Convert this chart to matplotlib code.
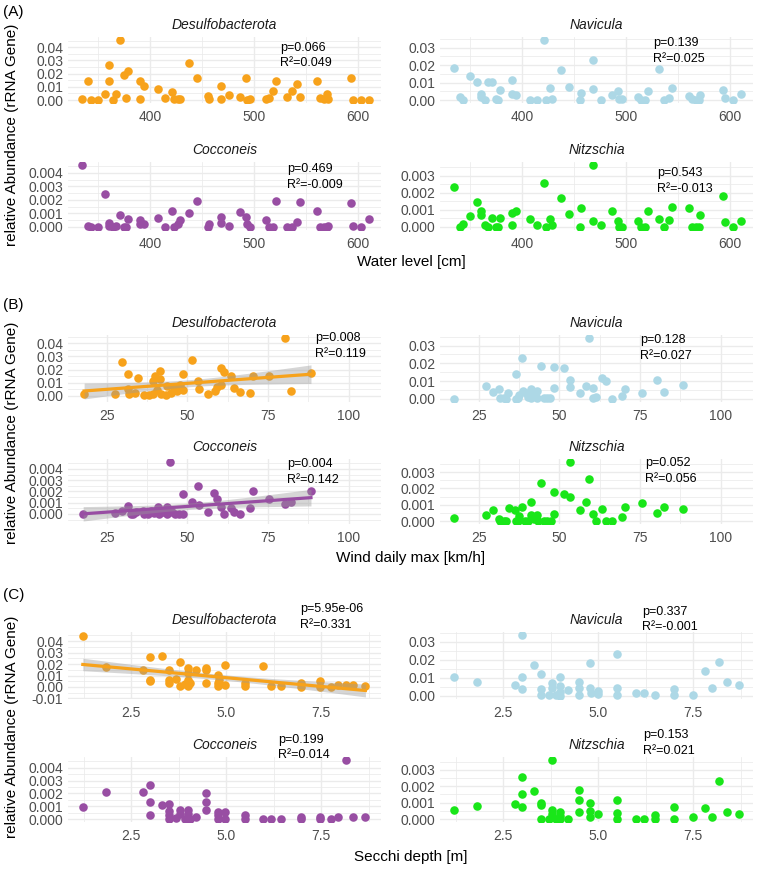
import numpy as np
import matplotlib
matplotlib.use("Agg")
import matplotlib.pyplot as plt
from matplotlib.ticker import MultipleLocator, FormatStrFormatter

plt.rcParams['font.family'] = ['Liberation Sans', 'DejaVu Sans']
plt.rcParams['axes.unicode_minus'] = False

species = ["Desulfobacterota", "Navicula", "Cocconeis", "Nitzschia"]
colors = ["#F7A21B", "#ADD8E6", "#984EA3", "#19E619"]

# (A) water level
water_level = [334, 340, 343, 350, 357, 360, 360, 364, 367, 371, 375, 377, 379, 390, 390, 394, 408, 414,
               421, 423, 427, 429, 437, 445, 456, 457, 468, 468, 476, 486, 492, 493, 496, 511, 514, 518,
               521, 532, 536, 541, 544, 560, 563, 567, 570, 571, 593, 595, 603, 610]
a_desulfo = [0.0008, 0.0147, 0.0, 0.0, 0.0044, 0.0266, 0.0142, 0.0, 0.0044, 0.0455,
             0.0186, 0.0013, 0.0219, 0.0005, 0.0142, 0.0103, 0.0083, 0.0018, 0.0059, 0.0005,
             0.0005, 0.0005, 0.0279, 0.0170, 0.0031, 0.0008, 0.0103, 0.0005, 0.0039, 0.0023,
             0.0165, 0.0, 0.0005, 0.0008, 0.0018, 0.0065, 0.0145, 0.0026, 0.0072, 0.0119,
             0.0023, 0.0147, 0.0018, 0.0008, 0.0044, 0.0005, 0.0170, 0.0, 0.0, 0.0]
a_navicula = [0.0184, 0.0019, 0.0, 0.0135, 0.0106, 0.0033, 0.0019, 0.0, 0.0101, 0.0106,
              0.0006, 0.0, 0.0058, 0.0116, 0.0035, 0.0031, 0.0, 0.0, 0.0344, 0.0,
              0.0070, 0.0006, 0.0170, 0.0073, 0.0, 0.0039, 0.0064, 0.0232, 0.0, 0.0031,
              0.0052, 0.0006, 0.0006, 0.0015, 0.0, 0.0, 0.0054, 0.0180, 0.0, 0.0010,
              0.0070, 0.0025, 0.0006, 0.0, 0.0, 0.0031, 0.0060, 0.0014, 0.0, 0.0037]
a_cocconeis = [0.00458, 0.0001, 0.0, 0.0, 0.00245, 0.0003, 0.0001, 0.0, 0.0001, 0.0009,
               0.0, 0.0, 0.00055, 0.0005, 0.0002, 0.0002, 0.00065, 0.0, 0.0012, 0.0,
               0.0002, 0.0005, 0.00105, 0.00195, 0.0, 0.00025, 0.0007, 0.0003, 0.0001, 0.0011,
               0.0007, 0.0002, 0.0, 0.00048, 0.0, 0.0, 0.00195, 0.0, 0.0, 0.00035,
               0.00185, 0.0012, 0.0, 0.0, 0.0, 0.0001, 0.00175, 0.0001, 0.0, 0.00055]
a_nitzschia = [0.00236, 0.0, 0.0002, 0.00064, 0.00149, 0.00091, 0.00072, 0.0001, 0.0, 0.00054,
               0.0, 0.0, 0.00052, 0.00083, 0.0001, 0.00093, 0.00045, 0.0001, 0.00261, 0.0,
               0.00045, 0.0001, 0.0017, 0.00077, 0.0, 0.00114, 0.00033, 0.00364, 0.0001, 0.00093,
               0.00033, 0.0, 0.0, 0.00033, 0.0, 0.0, 0.00093, 0.00048, 0.0, 0.00043,
               0.0012, 0.00112, 0.0, 0.0, 0.0, 0.00072, 0.0018, 0.00027, 0.0, 0.00037]

# (B) wind daily max
b_desulfo_x = [18.0, 27.7, 29.7, 31.7, 31.7, 32.0, 33.7, 34.7, 36.7, 38.0, 39.3, 40.0, 39.3, 40.7, 41.5,
               41.5, 41.8, 43.3, 43.8, 44.8, 45.8, 46.8, 47.8, 48.5, 48.5, 51.5, 53.3, 53.5, 56.5, 58.5,
               59.3, 60.3, 61.3, 60.3, 63.4, 64.4, 66.4, 69.4, 70.4, 75.4, 80.2, 82.2, 88.3]
b_desulfo_y = [0.0015, 0.0012, 0.0258, 0.0165, 0.005, 0.0015, 0.002, 0.014, 0.0008, 0.0008,
               0.0115, 0.015, 0.0015, 0.0045, 0.019, 0.0125, 0.0015, 0.0008, 0.0075, 0.0025,
               0.0058, 0.004, 0.0083, 0.017, 0.0045, 0.027, 0.0115, 0.0053, 0.0015, 0.004,
               0.0065, 0.0215, 0.0183, 0.0083, 0.015, 0.0058, 0.003, 0.002, 0.015, 0.015,
               0.044, 0.0038, 0.0175]
b_navicula_x = [17.3, 27.2, 29.3, 31.2, 31.5, 32.8, 33.3, 34.2, 36.4, 36.4, 37.1, 37.6, 38.3, 38.6, 39.6,
                40.3, 41.1, 41.3, 42.1, 43.1, 43.1, 44.2, 45.2, 46.2, 47.2, 48.2, 48.2, 51.3, 53.3, 53.3,
                56.4, 58.4, 59.2, 60.4, 60.4, 61.4, 63.3, 64.5, 66.3, 69.4, 70.4, 75.5, 80.3, 82.4, 88.4]
b_navicula_y = [0.0, 0.0075, 0.0038, 0.0055, 0.0004, 0.0008, 0.0, 0.0032, 0.0139, 0.0,
                0.0004, 0.0023, 0.0231, 0.0042, 0.0032, 0.0013, 0.0057, 0.0004, 0.0032, 0.0042,
                0.0004, 0.0185, 0.0004, 0.0004, 0.0004, 0.018, 0.0063, 0.0172, 0.0109, 0.0067,
                0.0036, 0.0073, 0.0342, 0.0063, 0.0004, 0.001, 0.012, 0.0103, 0.0, 0.0019,
                0.0057, 0.0032, 0.0109, 0.004, 0.0078]
b_cocconeis_x = [17.7, 27.7, 29.7, 31.7, 32.4, 33.2, 34.2, 36.2, 36.7, 37.8, 38.8, 39.8, 40.8, 41.3, 42.3,
                 43.8, 43.8, 44.6, 45.3, 46.3, 47.3, 48.5, 48.5, 51.5, 53.3, 53.5, 56.3, 58.3, 59.3, 60.3,
                 61.3, 63.4, 64.4, 66.4, 69.4, 70.4, 75.4, 80.2, 82.2, 88.3]
b_cocconeis_y = [0.0, 0.0001, 0.0003, 0.0007, 0.0, 0.0, 0.0002, 0.0003, 0.0, 0.0,
                 0.0003, 0.0001, 0.0006, 0.0, 0.0002, 0.0006, 0.0, 0.00462, 0.00014, 0.0,
                 0.0, 0.0018, 0.0, 0.0011, 0.0025, 0.0008, 0.00014, 0.0019, 0.0013, 0.00065,
                 0.0, 0.00056, 0.0002, 0.0, 0.0005, 0.002, 0.0013, 0.0009, 0.0011, 0.002]
b_nitzschia_x = [17.3, 27.2, 29.3, 31.2, 31.5, 32.8, 33.5, 34.3, 36.1, 36.4, 37.1, 37.6, 38.3, 39.3, 40.3,
                 41.3, 41.3, 42.2, 43.2, 43.4, 44.4, 45.2, 46.2, 47.4, 48.2, 48.2, 51.3, 53.3, 53.3, 56.4,
                 58.4, 59.2, 60.4, 61.4, 63.3, 64.5, 66.3, 69.4, 70.4, 75.5, 80.3, 82.4, 88.4]
b_nitzschia_y = [0.0002, 0.0004, 0.00067, 0.0001, 0.0, 0.0, 0.0, 0.00083, 0.00067, 0.0,
                 0.0, 0.0003, 0.00088, 0.0, 0.0, 0.00115, 0.0004, 0.00015, 0.00035, 0.0,
                 0.00233, 0.0, 0.0, 0.0, 0.00046, 0.00177, 0.00167, 0.00363, 0.00146, 0.00069,
                 0.00119, 0.00258, 0.00046, 0.0, 0.00077, 0.0, 0.0, 0.00025, 0.00088, 0.00108,
                 0.00052, 0.00088, 0.00075]

# (C) secchi depth
c_desulfo_x = [1.22, 1.82, 2.8, 3.0, 3.0, 3.0, 3.3, 3.49, 3.49, 3.5, 3.68, 3.79, 3.79, 3.9, 3.98,
               3.98, 3.98, 3.98, 4.03, 4.2, 4.47, 4.47, 4.47, 4.77, 4.77, 4.77, 4.8, 4.97, 4.97, 5.48,
               5.48, 5.96, 6.17, 6.45, 6.97, 6.97, 7.46, 7.46, 7.76, 7.93, 8.14, 8.34, 8.66]
c_desulfo_y = [0.0448, 0.0173, 0.0144, 0.0258, 0.0065, 0.0048, 0.0269, 0.0144, 0.0059, 0.0036,
               0.007, 0.0221, 0.0008, 0.0022, 0.0164, 0.0122, 0.0065, 0.0008, 0.0036, 0.015,
               0.0164, 0.0144, 0.0031, 0.0107, 0.0031, 0.0008, 0.0065, 0.0193, 0.0014, 0.0031,
               0.0008, 0.0184, 0.0008, 0.0008, 0.0031, 0.0002, 0.0048, 0.0002, 0.0002, 0.0014,
               0.0019, 0.0014, 0.0008]
c_navicula_x = [1.21, 1.81, 2.8, 3.0, 3.0, 3.0, 3.3, 3.49, 3.49, 3.49, 3.69, 3.79, 3.79, 3.88, 3.99,
                3.99, 3.99, 3.99, 4.2, 4.5, 4.5, 4.5, 4.78, 4.78, 4.8, 5.0, 5.0, 5.49, 5.49, 5.49,
                5.99, 6.19, 6.49, 6.98, 6.98, 7.49, 7.8, 7.99, 8.17, 8.39, 8.69]
c_navicula_y = [0.0107, 0.0079, 0.0059, 0.0337, 0.0107, 0.004, 0.0171, 0.012, 0.004, 0.0006,
                0.0006, 0.007, 0.0042, 0.0006, 0.0103, 0.0055, 0.0024, 0.0, 0.0033, 0.0079,
                0.0042, 0.0006, 0.018, 0.0042, 0.0015, 0.0028, 0.0011, 0.023, 0.0046, 0.0004,
                0.0015, 0.0015, 0.0004, 0.004, 0.0004, 0.0006, 0.0138, 0.0042, 0.0186, 0.0075,
                0.0059]
c_cocconeis_x = [1.22, 1.82, 2.8, 3.0, 3.0, 3.0, 3.3, 3.49, 3.49, 3.49, 3.49, 3.68, 3.79, 3.79, 3.9,
                 3.98, 3.98, 3.98, 4.03, 4.2, 4.47, 4.47, 4.47, 4.77, 4.77, 4.77, 4.97, 4.97, 5.48, 5.48,
                 5.96, 6.17, 6.45, 6.97, 6.97, 7.46, 7.46, 7.76, 7.95, 8.14, 8.34, 8.66]
c_cocconeis_y = [0.00097, 0.00207, 0.00207, 0.00262, 0.00132, 0.00028, 0.0011, 0.00119, 0.00063, 0.00028,
                 0.0, 0.00008, 0.00074, 0.00041, 0.0, 0.00074, 0.00036, 0.0, 0.0, 0.00014,
                 0.00201, 0.00132, 0.00069, 0.00055, 0.00028, 0.0, 0.00055, 0.0, 0.00033, 0.0,
                 0.0, 0.0, 0.0, 0.00014, 0.0, 0.00014, 0.0, 0.0, 0.00019, 0.0046,
                 0.00019, 0.00019]
c_nitzschia_x = [1.21, 1.81, 2.8, 3.0, 3.0, 3.0, 3.3, 3.49, 3.49, 3.49, 3.69, 3.79, 3.79, 3.79, 3.88,
                 3.99, 3.99, 3.99, 4.2, 4.5, 4.5, 4.5, 4.78, 4.78, 4.78, 5.0, 5.49, 5.49, 5.49, 5.99,
                 6.19, 6.49, 6.49, 6.98, 6.98, 7.49, 7.8, 7.99, 8.17, 8.39, 8.69]
c_nitzschia_y = [0.00055, 0.0008, 0.00092, 0.00259, 0.00151, 0.00071, 0.00171, 0.001, 0.00086, 0.0,
                 0.0, 0.00361, 0.00055, 0.00031, 0.0, 0.00045, 0.00018, 0.0, 0.0, 0.00178,
                 0.00116, 0.00045, 0.00096, 0.00051, 0.00014, 0.00029, 0.00116, 0.00035, 0.0, 0.0,
                 0.0, 0.00024, 0.0, 0.00071, 0.0, 0.00014, 0.00065, 0.0001, 0.00233, 0.00045,
                 0.00031]

a_stats = [("0.066", "0.049"), ("0.139", "0.025"), ("0.469", "-0.009"), ("0.543", "-0.013")]
b_stats = [("0.008", "0.119"), ("0.128", "0.027"), ("0.004", "0.142"), ("0.052", "0.056")]
c_stats = [("5.95e-06", "0.331"), ("0.337", "-0.001"), ("0.199", "0.014"), ("0.153", "0.021")]

# ---------------------------------------------------------------- layout (pixels)
W, H = 764, 872
fig = plt.figure(figsize=(W / 100, H / 100), dpi=100)
cols = [(68, 381), (440, 753)]

sections = [
    dict(tag="(A)", tag_y=12, xlabel="Water level [cm]", xlab_y=262, ylab_y=135,
         rows=[(37, 103), (162, 230)], xlim=(321, 622), xstep=100, xfmt="%d",
         data=[(water_level, a_desulfo), (water_level, a_navicula),
               (water_level, a_cocconeis), (water_level, a_nitzschia)],
         stats=a_stats, fit=[False, False, False, False],
         txt=[(212, 11), (213, 6), (219, 7), (217, 11)], ylim={}),
    dict(tag="(B)", tag_y=305, xlabel="Wind daily max [km/h]", xlab_y=558, ylab_y=433,
         rows=[(335, 402), (459, 524)], xlim=(13, 110), xstep=25, xfmt="%d",
         data=[(b_desulfo_x, b_desulfo_y), (b_navicula_x, b_navicula_y),
               (b_cocconeis_x, b_cocconeis_y), (b_nitzschia_x, b_nitzschia_y)],
         stats=b_stats, fit=[True, False, True, False],
         txt=[(247, 3), (200, 5), (219, 5), (205, 4)], ylim={}),
    dict(tag="(C)", tag_y=595, xlabel="Secchi depth [m]", xlab_y=857, ylab_y=727,
         rows=[(632, 699), (757, 822)], xlim=(0.83, 9.07), xstep=2.5, xfmt="%.1f",
         data=[(c_desulfo_x, c_desulfo_y), (c_navicula_x, c_navicula_y),
               (c_cocconeis_x, c_cocconeis_y), (c_nitzschia_x, c_nitzschia_y)],
         stats=c_stats, fit=[True, False, False, False],
         txt=[(232, -23), (202, -20), (210, -17), (203, -22)], ylim={0: (-0.0105, 0.048)}),
]

ystep = [0.01, 0.01, 0.001, 0.001]
yfmt = ["%.2f", "%.2f", "%.3f", "%.3f"]

for sec in sections:
    for k in range(4):
        r, c = divmod(k, 2)
        x0, x1 = cols[c]
        y0, y1 = sec["rows"][r]
        pw, ph = x1 - x0, y1 - y0
        ax = fig.add_axes([x0 / W, 1 - y1 / H, pw / W, ph / H])

        x = np.asarray(sec["data"][k][0], float)
        y = np.asarray(sec["data"][k][1], float)
        ax.scatter(x, y, s=38, color=colors[k], lw=0, zorder=3)
        lo, hi = y.min(), y.max()

        if sec["fit"][k]:
            b, a = np.polyfit(x, y, 1)
            n = len(x)
            s = np.sqrt(np.sum((y - (a + b * x)) ** 2) / (n - 2))
            xs = np.linspace(x.min(), x.max(), 100)
            fy = a + b * xs
            band = 2.02 * s * np.sqrt(1 / n + (xs - x.mean()) ** 2 / np.sum((x - x.mean()) ** 2))
            ax.fill_between(xs, fy - band, fy + band, color="#999999", alpha=0.4, lw=0, zorder=4)
            ax.plot(xs, fy, color=colors[k], lw=2.3, zorder=5)
            lo, hi = min(lo, (fy - band).min()), max(hi, (fy + band).max())

        pad = 0.05 * (hi - lo)
        ax.set_ylim(sec["ylim"].get(k, (lo - pad, hi + pad)))
        ax.set_xlim(sec["xlim"])

        ax.yaxis.set_major_locator(MultipleLocator(ystep[k]))
        ax.yaxis.set_minor_locator(MultipleLocator(ystep[k] / 2))
        ax.yaxis.set_major_formatter(FormatStrFormatter(yfmt[k]))
        ax.xaxis.set_major_locator(MultipleLocator(sec["xstep"]))
        ax.xaxis.set_minor_locator(MultipleLocator(sec["xstep"] / 2))
        ax.xaxis.set_major_formatter(FormatStrFormatter(sec["xfmt"]))

        ax.grid(which="major", color="#EBEBEB", lw=1.0)
        ax.grid(which="minor", color="#EBEBEB", lw=0.55)
        ax.set_axisbelow(True)
        for sp in ax.spines.values():
            sp.set_visible(False)
        ax.tick_params(which="both", length=0, labelsize=10, labelcolor="#4D4D4D")
        ax.tick_params(axis="x", pad=5)
        ax.tick_params(axis="y", pad=3.5)

        ax.annotate(species[k], xy=(0.5, 1), xycoords="axes fraction",
                    xytext=(0, 8.6), textcoords="offset points",
                    ha="center", va="center", fontsize=10, style="italic", color="#1A1A1A")

        dx, dy = sec["txt"][k]
        p, r2 = sec["stats"][k]
        ax.text(dx / pw, 1 - dy / ph, "p=" + p, transform=ax.transAxes,
                ha="left", va="center", fontsize=9, clip_on=False, zorder=6)
        ax.text(dx / pw, 1 - (dy + 15.5) / ph, "R²=" + r2, transform=ax.transAxes,
                ha="left", va="center", fontsize=9, clip_on=False, zorder=6)

    fig.text(3 / W, 1 - sec["tag_y"] / H, sec["tag"], ha="left", va="center", fontsize=11)
    fig.text(411 / W, 1 - sec["xlab_y"] / H, sec["xlabel"], ha="center", va="center", fontsize=11)
    fig.text(12 / W, 1 - sec["ylab_y"] / H, "relative Abundance (rRNA Gene)",
             ha="center", va="center", rotation=90, fontsize=11)

fig.savefig("out.png", dpi=100)
